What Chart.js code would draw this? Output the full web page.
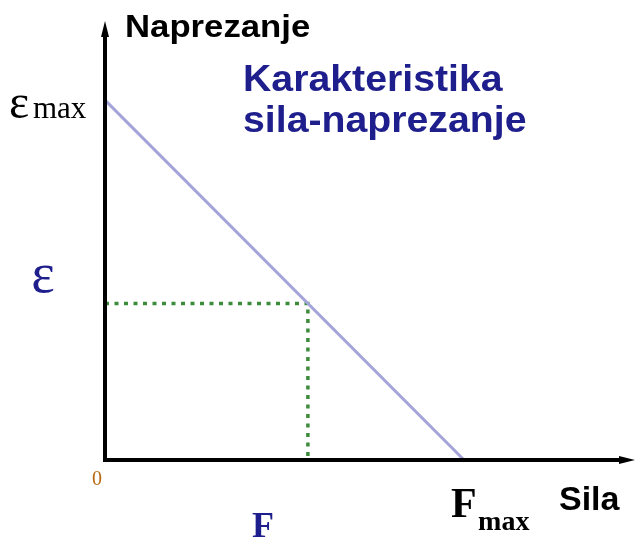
<!DOCTYPE html>
<html>
<head>
<meta charset="utf-8">
<script src="https://cdn.jsdelivr.net/npm/chart.js@4.4.1/dist/chart.umd.min.js"></script>
<style>
  html, body { margin: 0; padding: 0; background: #fff; }
  canvas { display: block; }
</style>
</head>
<body>
<canvas id="myChart" width="639" height="538"></canvas>
<script>
// values (arbitrary units, schematic)
const fMax = 10;        // Sila at which naprezanje reaches 0
const epsMax = 10;      // naprezanje at zero sila
const fPoint = 5.65;    // chosen operating point F
const epsPoint = epsMax - epsMax / fMax * fPoint;
const xMax = 14.76;     // end of x axis arrow
const yMax = 12.2;      // end of y axis arrow

const lineX = [0, fMax];
const lineY = [epsMax, 0];
const guideX = [0, fPoint, fPoint];
const guideY = [epsPoint, epsPoint, 0];

const navy = '#1e1e8c';
const sans = '"Liberation Sans", Arial, sans-serif';
const serif = '"Liberation Serif", "Times New Roman", serif';

function toPoints(xs, ys) {
    return xs.map((x, i) => ({ x: x, y: ys[i] }));
}

function arrowHead(c, x, y, dir) {
    c.beginPath();
    if (dir === 'up') {
        c.moveTo(x, y);
        c.lineTo(x - 4, y + 16);
        c.lineTo(x + 4, y + 16);
    } else {
        c.moveTo(x, y);
        c.lineTo(x - 16, y - 4);
        c.lineTo(x - 16, y + 4);
    }
    c.closePath();
    c.fill();
}

const diagramPlugin = {
    id: 'diagram',
    afterDatasetsDraw(chart) {
        const c = chart.ctx;
        const xs = chart.scales.x;
        const ys = chart.scales.y;
        const x0 = xs.getPixelForValue(0);
        const y0 = ys.getPixelForValue(0);
        const xEnd = xs.getPixelForValue(xMax);
        const yEnd = ys.getPixelForValue(yMax);

        c.save();
        // axes
        c.strokeStyle = '#000';
        c.fillStyle = '#000';
        c.lineWidth = 4;
        c.beginPath();
        c.moveTo(x0, y0 + 2);
        c.lineTo(x0, yEnd + 10);
        c.moveTo(x0 - 2, y0);
        c.lineTo(xEnd - 10, y0);
        c.stroke();
        arrowHead(c, x0, yEnd, 'up');
        arrowHead(c, xEnd, y0, 'right');

        c.textBaseline = 'alphabetic';

        // axis titles
        c.fillStyle = '#000';
        c.font = 'bold 31px ' + sans;
        c.textAlign = 'left';
        c.save();
        c.translate(x0 + 20, yEnd + 16);
        c.scale(1.12, 1);
        c.fillText('Naprezanje', 0, 0);
        c.restore();
        c.font = 'bold 34px ' + sans;
        c.fillText('Sila', 559, y0 + 50);

        // chart title
        c.fillStyle = navy;
        c.font = 'bold 36px ' + sans;
        c.save();
        c.translate(243, 91);
        c.scale(1.09, 1);
        c.fillText('Karakteristika', 0, 0);
        c.fillText('sila-naprezanje', 0, 41);
        c.restore();

        // y labels
        const yTop = ys.getPixelForValue(epsMax);
        c.fillStyle = '#000';
        c.font = '48px ' + serif;
        c.textAlign = 'left';
        c.fillText('\u03b5', 9, yTop + 18);
        c.font = '31px ' + serif;
        c.fillText('max', 33, yTop + 18);

        const yEps = ys.getPixelForValue(epsPoint);
        c.fillStyle = navy;
        c.font = '56px ' + serif;
        c.textAlign = 'center';
        c.fillText('\u03b5', 43, yEps - 11);

        // origin
        c.fillStyle = '#b8680f';
        c.font = '20px ' + serif;
        c.fillText('0', x0 - 8, y0 + 25);

        // x labels
        const xF = xs.getPixelForValue(fPoint);
        c.fillStyle = navy;
        c.font = 'bold 36px ' + serif;
        c.fillText('F', xF - 45, y0 + 77);

        const xFm = xs.getPixelForValue(fMax);
        c.fillStyle = '#000';
        c.textAlign = 'left';
        c.font = 'bold 42px ' + serif;
        c.fillText('F', xFm - 13, y0 + 57);
        c.font = 'bold 28px ' + serif;
        c.fillText('max', xFm + 14, y0 + 70);
        c.restore();
    }
};

const chart = new Chart(document.getElementById('myChart'), {
    type: 'scatter',
    data: {
        datasets: [
            {
                data: toPoints(lineX, lineY),
                showLine: true,
                borderColor: '#a4a4da',
                borderWidth: 3,
                pointRadius: 0,
                clip: false
            },
            {
                data: toPoints(guideX, guideY),
                showLine: true,
                borderColor: '#3c8c3c',
                borderWidth: 3.5,
                borderDash: [4, 5.5],
                pointRadius: 0,
                clip: false
            }
        ]
    },
    options: {
        responsive: false,
        animation: false,
        layout: { padding: { left: 105, right: 4, top: 21, bottom: 78 } },
        plugins: { legend: { display: false }, tooltip: { enabled: false } },
        scales: {
            x: { type: 'linear', min: 0, max: xMax, display: false },
            y: { type: 'linear', min: 0, max: yMax, display: false }
        }
    },
    plugins: [diagramPlugin]
});
</script>
</body>
</html>
